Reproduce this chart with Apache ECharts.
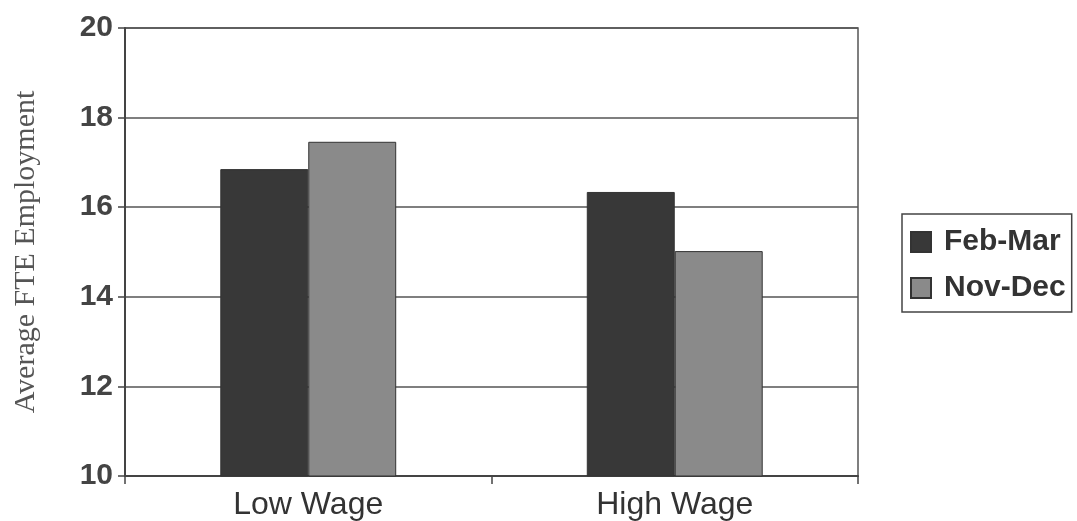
<!DOCTYPE html>
<html>
<head>
<meta charset="utf-8">
<script src="https://cdn.jsdelivr.net/npm/echarts@6/dist/echarts.min.js"></script>
<style>html,body{margin:0;padding:0;background:#fff;}#c{width:1077px;height:521px;}</style>
</head>
<body>
<div id="c"></div>
<script>
var categories = ['Low Wage', 'High Wage'];
var febMar = [16.85, 16.34];
var novDec = [17.46, 15.02];
var yTicks = [10, 12, 14, 16, 18, 20];

var chart = echarts.init(document.getElementById('c'), null, {renderer: 'canvas'});
chart.setOption({
  animation: false,
  backgroundColor: '#fff',
  grid: {left: 125, right: 219, top: 28, bottom: 45, show: true, borderColor: '#555', borderWidth: 1.5, backgroundColor: 'transparent'},
  legend: {
    orient: 'vertical', left: 902, top: 214,
    padding: [13, 6, 9, 8],
    itemWidth: 20, itemHeight: 20, itemGap: 16,
    icon: 'rect',
    borderColor: '#444', borderWidth: 1.5,
    textStyle: {fontFamily: 'Liberation Sans, Arial, sans-serif', fontWeight: 'bold', fontSize: 30, color: '#333', padding: [0, 0, 0, 8]},
    data: ['Feb-Mar', 'Nov-Dec']
  },
  xAxis: {
    type: 'category', data: categories,
    axisLine: {lineStyle: {color: '#444', width: 2}},
    axisTick: {show: true, length: 8, lineStyle: {color: '#444', width: 1.5}},
    axisLabel: {fontFamily: 'Liberation Sans, Arial, sans-serif', fontSize: 32, color: '#333', margin: 13},
    splitLine: {show: false}
  },
  yAxis: {
    type: 'value', min: yTicks[0], max: yTicks[yTicks.length - 1], interval: 2,
    name: 'Average FTE Employment', nameLocation: 'middle', nameGap: 84,
    nameTextStyle: {fontFamily: 'Liberation Serif, Times New Roman, serif', fontSize: 30, color: '#555'},
    axisLine: {show: true, lineStyle: {color: '#444', width: 2}},
    axisTick: {show: true, length: 7, lineStyle: {color: '#444', width: 1.5}},
    axisLabel: {fontFamily: 'Liberation Sans, Arial, sans-serif', fontWeight: 'bold', fontSize: 30, color: '#444', margin: 12, padding: [0, 0, 14, 0]},
    splitLine: {show: true, lineStyle: {color: '#555', width: 1.5}}
  },
  series: [
    {name: 'Feb-Mar', type: 'bar', data: febMar, barGap: '0%', barCategoryGap: '52%',
     itemStyle: {color: '#383838', borderColor: '#333', borderWidth: 1}},
    {name: 'Nov-Dec', type: 'bar', data: novDec,
     itemStyle: {color: '#8a8a8a', borderColor: '#333', borderWidth: 1}}
  ]
});
</script>
</body>
</html>
